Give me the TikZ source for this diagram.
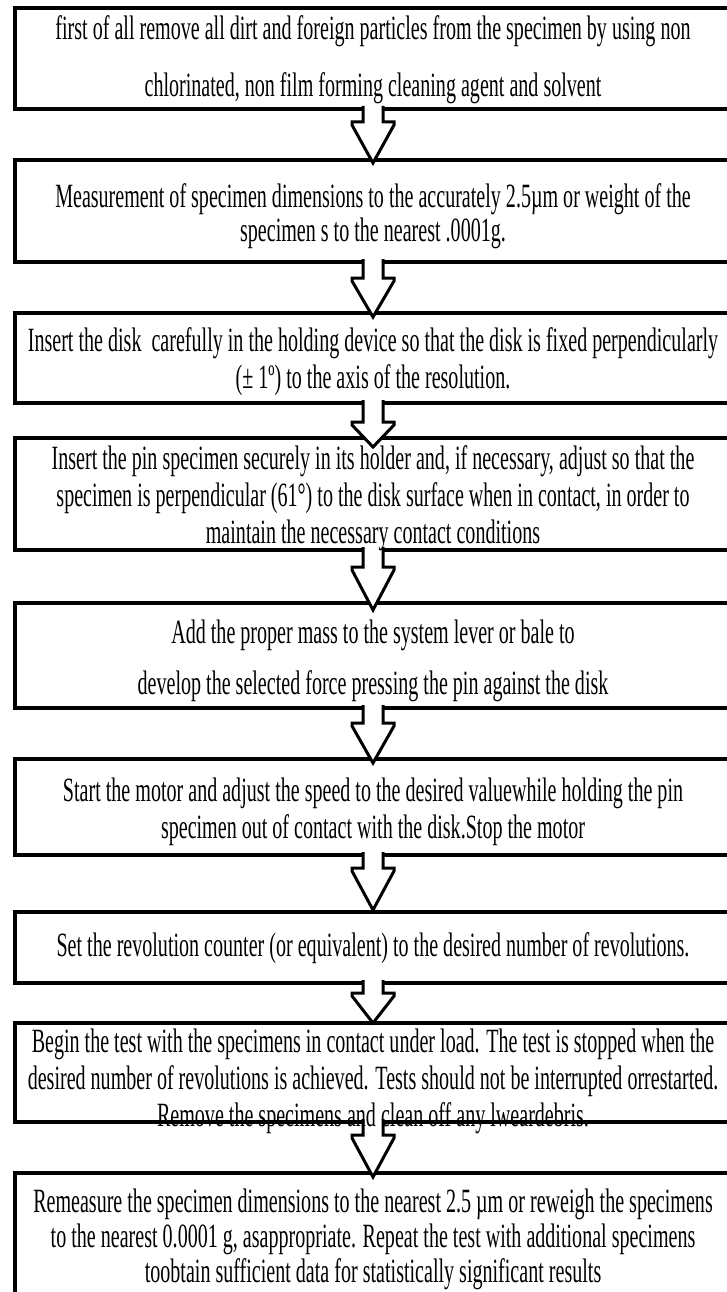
\documentclass[tikz,border=0pt]{standalone}
\usepackage{fontspec}
\setmainfont{Liberation Serif}[FakeStretch=0.59]
\usetikzlibrary{calc}
\tikzset{
  stepbox/.style={draw=black, line width=4pt, fill=white, minimum width=716pt, inner sep=0pt, outer sep=0pt},
  txt/.style={align=center, inner sep=0pt, outer sep=0pt, font=\fontsize{34}{37}\selectfont},
  arrowshape/.style={draw=black, fill=white, line width=3pt, line join=miter}
}
\newcommand\flowarrow[4]{%
  \filldraw[arrowshape]
   ($(#1.south)+(-10,-3)$) -- ($(#1.south)+(-10,#3)$) -- ($(#1.south)+(-21,#3)$) --
   ($(#1.south)+(-21,#3+3)$) -- ($(#2.north)+(0,#4)$) -- ($(#1.south)+(21,#3+3)$) --
   ($(#1.south)+(21,#3)$) -- ($(#1.south)+(10,#3)$) -- ($(#1.south)+(10,-3)$);}
\begin{document}
\begin{tikzpicture}[x=1pt,y=-1pt]
\useasboundingbox (0,0) rectangle (727,1292);
\fill[white] (0,0) rectangle (727,1292);
% boxes
\node[stepbox, minimum height=101pt] (b1) at (373,58.5) {};
\node[stepbox, minimum height=102pt] (b2) at (373,211) {};
\node[stepbox, minimum height=90pt]  (b3) at (373,358) {};
\node[stepbox, minimum height=112pt] (b4) at (373,494) {};
\node[stepbox, minimum height=105pt] (b5) at (373,655.5) {};
\node[stepbox, minimum height=96pt]  (b6) at (373,807) {};
\node[stepbox, minimum height=71pt]  (b7) at (373,947.5) {};
\node[stepbox, minimum height=99pt]  (b8) at (373,1072.5) {};
\node[stepbox, minimum height=147pt] (b9) at (373,1246.5) {};
% arrows
\flowarrow{b1}{b2}{13}{3}
\flowarrow{b2}{b3}{16}{4}
\flowarrow{b3}{b4}{19}{9}
\flowarrow{b4}{b5}{17}{7}
\flowarrow{b5}{b6}{15}{4}
\flowarrow{b6}{b7}{13}{-2}
\flowarrow{b7}{b8}{10}{0}
\flowarrow{b8}{b9}{13}{4}
% texts
\node[txt, font=\fontsize{34}{57}\selectfont] (t1) at (373,59.5) {first of all remove all dirt and foreign particles from the specimen by using non\\chlorinated, non film forming cleaning agent and solvent};
\node[txt, font=\fontsize{34}{34}\selectfont] (t2) at (373,216) {Measurement of specimen dimensions to the accurately 2.5µm or weight of the\\specimen s to the nearest .0001g.};
\node[txt] (t3) at (373,362) {Insert the disk\ \ carefully in the holding device so that the disk is fixed perpendicularly\\(± 1º) to the axis of the resolution.};
\node[txt] (t4) at (373,498.5) {Insert the pin specimen securely in its holder and, if necessary, adjust so that the\\specimen is perpendicular (61°) to the disk surface when in contact, in order to\\maintain the necessary contact conditions};
\node[txt, font=\fontsize{34}{51}\selectfont] (t5) at (373,660.5) {Add the proper mass to the system lever or bale to\\develop the selected force pressing the pin against the disk};
\node[txt] (t6) at (373,811.5) {Start the motor and adjust the speed to the desired valuewhile holding the pin\\specimen out of contact with the disk.Stop the motor};
\node[txt] (t7) at (373,948) {Set the revolution counter (or equivalent) to the desired number of revolutions.};
\node[txt] (t8) at (373,1081) {Begin the test with the specimens in contact under load. The test is stopped when the\\desired number of revolutions is achieved. Tests should not be interrupted orrestarted.\\Remove the specimens and clean off any lweardebris.};
\node[txt, font=\fontsize{34}{35}\selectfont] (t9) at (373,1239) {Remeasure the specimen dimensions to the nearest 2.5 µm or reweigh the specimens\\to the nearest 0.0001 g, asappropriate. Repeat the test with additional specimens\\toobtain sufficient data for statistically significant results};
\end{tikzpicture}
\end{document}
